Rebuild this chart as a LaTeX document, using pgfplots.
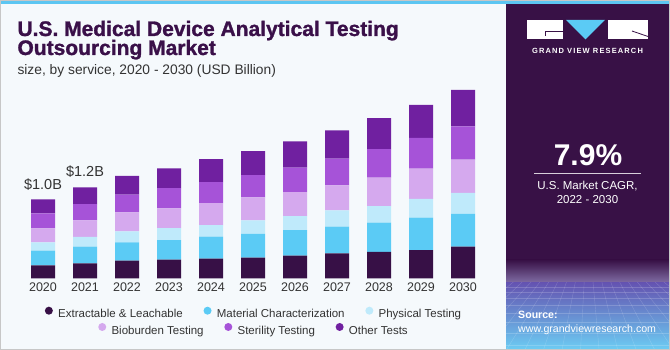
\documentclass[border=0pt]{standalone}
\usepackage{pgfplots}
\pgfplotsset{compat=1.18}
\usepackage{pgfplotstable}
\usepackage{fontspec}
\setmainfont{Liberation Sans}
\newfontfamily\heavyfont{Liberation Sans}[BoldFeatures={FakeBold=1.3}]

\definecolor{bgcol}{HTML}{F5F9FC}
\definecolor{titlecol}{HTML}{3A1049}
\definecolor{textgray}{HTML}{333333}
\definecolor{panelcol}{HTML}{381146}
\definecolor{stripecol}{HTML}{5CC6F2}
\definecolor{cext}{HTML}{371046}
\definecolor{cmat}{HTML}{5BCBF5}
\definecolor{cphys}{HTML}{BFEAFB}
\definecolor{cbio}{HTML}{D5A9EE}
\definecolor{cster}{HTML}{A653D8}
\definecolor{coth}{HTML}{7020A0}

\pgfplotstableread{
x  ext   mat   phys  bio   ster  oth
0  0.165 0.185 0.106 0.177 0.190 0.177
1  0.190 0.210 0.123 0.211 0.206 0.211
2  0.223 0.233 0.139 0.241 0.223 0.237
3  0.235 0.249 0.152 0.249 0.257 0.249
4  0.248 0.278 0.148 0.278 0.266 0.291
5  0.261 0.300 0.173 0.291 0.282 0.304
6  0.286 0.325 0.177 0.304 0.308 0.334
7  0.316 0.337 0.208 0.316 0.337 0.359
8  0.333 0.371 0.211 0.358 0.363 0.392
9  0.358 0.409 0.237 0.384 0.389 0.418
10 0.400 0.414 0.266 0.422 0.422 0.461
}\datatable

\begin{document}
\begin{tikzpicture}
% background and frame
\fill[bgcol] (0pt,0pt) rectangle (670pt,350pt);
% right panel
\fill[panelcol] (506pt,1pt) rectangle (669pt,346pt);
\shade[top color=panelcol, bottom color=panelcol!80!blue!60!white] (506pt,67pt) rectangle (669pt,90pt);
\shade[top color=panelcol!60!blue!70!white, bottom color=stripecol!90!white] (506pt,1pt) rectangle (669pt,67.2pt);
\begin{scope}
\clip (506pt,1pt) rectangle (669pt,67pt);
\foreach \bx in {380,400,...,800}{
  \draw[white, opacity=0.18, line width=0.4pt] (587.5pt,130pt) -- (\bx pt,-10pt);
}
\foreach \hy in {63,58,52,45,37,28,17,5}{
  \draw[white, opacity=0.18, line width=0.4pt] (506pt,\hy pt) -- (669pt,\hy pt);
}
\end{scope}
% top stripe and border
\fill[stripecol] (0pt,346pt) rectangle (670pt,350pt);
\draw[black!22, line width=1pt] (0.5pt,0.5pt) rectangle (669.5pt,349.5pt);

% logo
\fill[white] (527pt,330pt) rectangle (563pt,310.7pt);
\draw[panelcol, line width=0.8pt] (545pt,318.3pt) -- (563pt,318.3pt);
\draw[panelcol, line width=0.8pt] (545pt,318.3pt) -- (545pt,314pt);
\fill[cmat] (566pt,330pt) -- (605pt,330pt) -- (585.5pt,310.7pt) -- cycle;
\fill[white] (608pt,330pt) rectangle (648pt,310.7pt);
\draw[panelcol, line width=0.8pt] (632pt,319pt) -- (648pt,313.5pt);
\node[anchor=base, inner sep=0pt, text=white, font=\bfseries\fontsize{7.5}{8}\selectfont\addfontfeature{LetterSpace=15}] at (587.5pt,296.7pt) {GRAND VIEW RESEARCH};

% CAGR
\node[anchor=base, inner sep=0pt, text=white, font=\bfseries\fontsize{30}{30}\selectfont] at (588pt,184.3pt) {7.9\%};
\draw[white!80!panelcol, line width=0.9pt] (534pt,176.7pt) -- (641pt,176.7pt);
\node[anchor=base, inner sep=0pt, text=white, font=\fontsize{11.5}{12}\selectfont] at (587.5pt,160.7pt) {U.S. Market CAGR,};
\node[anchor=base, inner sep=0pt, text=white, font=\fontsize{11.5}{12}\selectfont] at (587.5pt,146pt) {2022 - 2030};

% source
\node[anchor=base west, inner sep=0pt, text=white, font=\bfseries\fontsize{10.6}{11}\selectfont] at (518pt,31pt) {Source:};
\node[anchor=base west, inner sep=0pt, text=white, font=\fontsize{10.6}{11}\selectfont] at (518pt,17.3pt) {www.grandviewresearch.com};

% titles
\node[anchor=base west, inner sep=0pt, text=titlecol, font=\heavyfont\bfseries\fontsize{21}{21}\selectfont] at (17.3pt,314pt) {U.S. Medical Device Analytical Testing};
\node[anchor=base west, inner sep=0pt, text=titlecol, font=\heavyfont\bfseries\fontsize{21}{21}\selectfont] at (17.3pt,295pt) {Outsourcing Market};
\node[anchor=base west, inner sep=0pt, text=textgray, font=\fontsize{13.8}{14}\selectfont] at (17.3pt,275pt) {size, by service, 2020 - 2030 (USD Billion)};

% main chart
\begin{axis}[
  at={(22pt,71.7pt)}, anchor=south west,
  scale only axis, width=462pt, height=197.5pt,
  xmin=-0.5, xmax=10.5, ymin=0, ymax=2.5,
  ybar stacked, bar width=24pt,
  axis line style={draw=none}, tick style={draw=none},
  ytick=\empty,
  xtick={0,...,10},
  xticklabels={2020,2021,2022,2023,2024,2025,2026,2027,2028,2029,2030},
  xticklabel style={font=\fontsize{12.5}{13}\selectfont, text=textgray, anchor=base, yshift=-13.4pt},
  clip=false,
]
\addplot[fill=cext, draw=none] table[x=x, y=ext] {\datatable};
\addplot[fill=cmat, draw=none] table[x=x, y=mat] {\datatable};
\addplot[fill=cphys, draw=none] table[x=x, y=phys] {\datatable};
\addplot[fill=cbio, draw=none] table[x=x, y=bio] {\datatable};
\addplot[fill=cster, draw=none] table[x=x, y=ster] {\datatable};
\addplot[fill=coth, draw=none] table[x=x, y=oth] {\datatable};
\node[anchor=base, inner sep=0pt, text=textgray, font=\fontsize{14.5}{15}\selectfont, yshift=9.3pt] at (axis cs:0,1.0) {\$1.0B};
\node[anchor=base, inner sep=0pt, text=textgray, font=\fontsize{14.5}{15}\selectfont, yshift=10.6pt] at (axis cs:1,1.151) {\$1.2B};
\end{axis}

% legend row 1
\begin{axis}[
  at={(22pt,71.7pt)}, anchor=south west,
  scale only axis, width=462pt, height=197.5pt,
  xmin=0, xmax=1, ymin=0, ymax=1, hide axis,
  legend image code/.code={\fill[#1] (4pt,3.7pt) circle (4pt);},
  legend columns=3, legend cell align=left,
  legend style={at={(0.5,-0.1757)}, anchor=center, draw=none, fill=none,
    font=\fontsize{11.5}{12}\selectfont, text=textgray,
    nodes={inner sep=0pt},
    /tikz/every odd column/.append style={column sep=5.3pt},
    /tikz/every even column/.append style={column sep=20.7pt}},
]
\addlegendimage{fill=cext, draw=none}
\addlegendentry{Extractable \& Leachable}
\addlegendimage{fill=cmat, draw=none}
\addlegendentry{Material Characterization}
\addlegendimage{fill=cphys, draw=none}
\addlegendentry{Physical Testing}
\end{axis}

% legend row 2
\begin{axis}[
  at={(22pt,71.7pt)}, anchor=south west,
  scale only axis, width=462pt, height=197.5pt,
  xmin=0, xmax=1, ymin=0, ymax=1, hide axis,
  legend image code/.code={\fill[#1] (4pt,3.7pt) circle (4pt);},
  legend columns=3, legend cell align=left,
  legend style={at={(0.5,-0.2582)}, anchor=center, draw=none, fill=none,
    font=\fontsize{11.5}{12}\selectfont, text=textgray,
    nodes={inner sep=0pt},
    /tikz/every odd column/.append style={column sep=5.3pt},
    /tikz/every even column/.append style={column sep=20.7pt}},
]
\addlegendimage{fill=cbio, draw=none}
\addlegendentry{Bioburden Testing}
\addlegendimage{fill=cster, draw=none}
\addlegendentry{Sterility Testing}
\addlegendimage{fill=coth, draw=none}
\addlegendentry{Other Tests}
\end{axis}
\end{tikzpicture}
\end{document}
